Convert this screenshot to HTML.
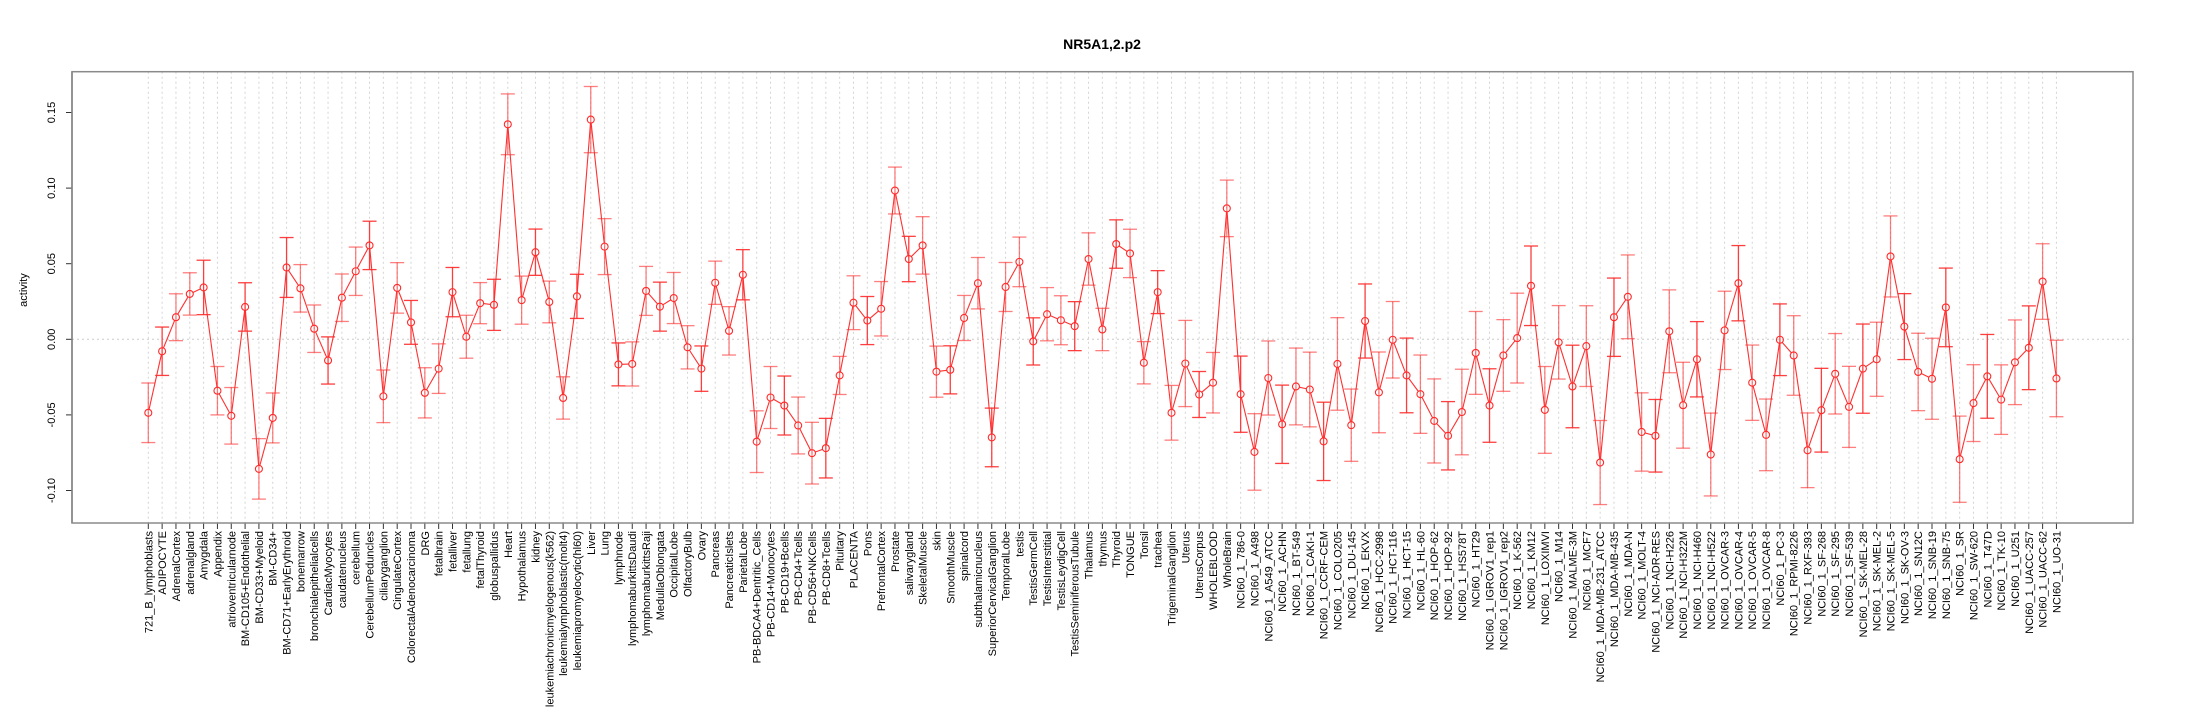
<!DOCTYPE html>
<html><head><meta charset="utf-8"><style>
html,body{margin:0;padding:0;background:#fff;}
svg{display:block;font-family:"Liberation Sans",Arial,sans-serif;}
</style></head><body>
<svg id="chart" width="2205" height="720" viewBox="0 0 2205 720" xmlns="http://www.w3.org/2000/svg">
<text x="1102" y="49" text-anchor="middle" font-size="14" font-weight="bold">NR5A1,2.p2</text>
<text transform="rotate(-90 27 290)" x="27" y="290" text-anchor="middle" font-size="11">activity</text>
<g id="grid"></g>
<g id="yaxis"></g>
<g id="xaxis"></g>
<g id="series"></g>
<rect x="72" y="71.7" width="2061" height="451.3" fill="none" stroke="#8a8a8a" stroke-width="1.5"/>
</svg>
<script>
const categories = ["721_B_lymphoblasts","ADIPOCYTE","AdrenalCortex","adrenalgland","Amygdala","Appendix","atrioventricularnode","BM-CD105+Endothelial","BM-CD33+Myeloid","BM-CD34+","BM-CD71+EarlyErythroid","bonemarrow","bronchialepithelialcells","CardiacMyocytes","caudatenucleus","cerebellum","CerebellumPeduncles","ciliaryganglion","CingulateCortex","ColorectalAdenocarcinoma","DRG","fetalbrain","fetalliver","fetallung","fetalThyroid","globuspallidus","Heart","Hypothalamus","kidney","leukemiachronicmyelogenous(k562)","leukemialymphoblastic(molt4)","leukemiapromyelocytic(hl60)","Liver","Lung","lymphnode","lymphomaburkittsDaudi","lymphomaburkittsRaji","MedullaOblongata","OccipitalLobe","OlfactoryBulb","Ovary","Pancreas","PancreaticIslets","ParietalLobe","PB-BDCA4+Dentritic_Cells","PB-CD14+Monocytes","PB-CD19+Bcells","PB-CD4+Tcells","PB-CD56+NKCells","PB-CD8+Tcells","Pituitary","PLACENTA","Pons","PrefrontalCortex","Prostate","salivarygland","SkeletalMuscle","skin","SmoothMuscle","spinalcord","subthalamicnucleus","SuperiorCervicalGanglion","TemporalLobe","testis","TestisGermCell","TestisInterstitial","TestisLeydigCell","TestisSeminiferousTubule","Thalamus","thymus","Thyroid","TONGUE","Tonsil","trachea","TrigeminalGanglion","Uterus","UterusCorpus","WHOLEBLOOD","WholeBrain","NCI60_1_786-0","NCI60_1_A498","NCI60_1_A549_ATCC","NCI60_1_ACHN","NCI60_1_BT-549","NCI60_1_CAKI-1","NCI60_1_CCRF-CEM","NCI60_1_COLO205","NCI60_1_DU-145","NCI60_1_EKVX","NCI60_1_HCC-2998","NCI60_1_HCT-116","NCI60_1_HCT-15","NCI60_1_HL-60","NCI60_1_HOP-62","NCI60_1_HOP-92","NCI60_1_HS578T","NCI60_1_HT29","NCI60_1_IGROV1_rep1","NCI60_1_IGROV1_rep2","NCI60_1_K-562","NCI60_1_KM12","NCI60_1_LOXIMVI","NCI60_1_M14","NCI60_1_MALME-3M","NCI60_1_MCF7","NCI60_1_MDA-MB-231_ATCC","NCI60_1_MDA-MB-435","NCI60_1_MDA-N","NCI60_1_MOLT-4","NCI60_1_NCI-ADR-RES","NCI60_1_NCI-H226","NCI60_1_NCI-H322M","NCI60_1_NCI-H460","NCI60_1_NCI-H522","NCI60_1_OVCAR-3","NCI60_1_OVCAR-4","NCI60_1_OVCAR-5","NCI60_1_OVCAR-8","NCI60_1_PC-3","NCI60_1_RPMI-8226","NCI60_1_RXF-393","NCI60_1_SF-268","NCI60_1_SF-295","NCI60_1_SF-539","NCI60_1_SK-MEL-28","NCI60_1_SK-MEL-2","NCI60_1_SK-MEL-5","NCI60_1_SK-OV-3","NCI60_1_SN12C","NCI60_1_SNB-19","NCI60_1_SNB-75","NCI60_1_SR","NCI60_1_SW-620","NCI60_1_T47D","NCI60_1_TK-10","NCI60_1_U251","NCI60_1_UACC-257","NCI60_1_UACC-62","NCI60_1_UO-31"];
const values = [-0.0486,-0.0079,0.0146,0.030,0.0343,-0.034,-0.0506,0.0214,-0.0857,-0.052,0.0475,0.0337,0.007,-0.014,0.0275,0.045,0.0621,-0.0377,0.034,0.0112,-0.0354,-0.0194,0.0312,0.0017,0.0239,0.0228,0.1422,0.0259,0.0576,0.0247,-0.0388,0.0284,0.1453,0.0613,-0.0166,-0.0163,0.032,0.0216,0.0273,-0.0053,-0.0194,0.0374,0.0056,0.0427,-0.0677,-0.0385,-0.0438,-0.057,-0.0753,-0.072,-0.0239,0.0242,0.0124,0.0202,0.0984,0.0531,0.0621,-0.0214,-0.0202,0.0141,0.0371,-0.0649,0.0346,0.0512,-0.0014,0.0166,0.0126,0.0087,0.0531,0.0065,0.063,0.0568,-0.0155,0.0312,-0.0486,-0.016,-0.0365,-0.0287,0.0866,-0.0363,-0.0745,-0.0256,-0.0562,-0.0312,-0.0332,-0.0675,-0.0163,-0.0568,0.0121,-0.0351,-0.0003,-0.0239,-0.0363,-0.054,-0.0638,-0.0481,-0.009,-0.0438,-0.0107,0.0008,0.0354,-0.0467,-0.002,-0.0312,-0.0045,-0.0815,0.0146,0.0281,-0.0613,-0.0638,0.0053,-0.0436,-0.0132,-0.0762,0.0059,0.0371,-0.0287,-0.0632,-0.0003,-0.0107,-0.0734,-0.0469,-0.0228,-0.0447,-0.0194,-0.0132,0.0548,0.0084,-0.0216,-0.0261,0.0211,-0.0793,-0.0422,-0.0245,-0.0399,-0.0152,-0.0056,0.0382,-0.0259];
const errors = [0.0197,0.016,0.0155,0.014,0.018,0.016,0.0187,0.016,0.02,0.0165,0.0198,0.0157,0.0157,0.0156,0.0157,0.016,0.016,0.0174,0.0167,0.0145,0.0166,0.0164,0.0163,0.0142,0.0136,0.0169,0.0201,0.0159,0.0153,0.0138,0.014,0.0146,0.0219,0.0185,0.0142,0.0146,0.0162,0.0162,0.0169,0.0143,0.015,0.0143,0.016,0.0166,0.0204,0.0205,0.0195,0.0188,0.0204,0.0197,0.0126,0.0178,0.0159,0.018,0.0155,0.015,0.019,0.0169,0.0159,0.0149,0.017,0.0194,0.0162,0.0164,0.0156,0.0176,0.0162,0.0162,0.0173,0.014,0.016,0.016,0.014,0.0142,0.0181,0.0285,0.0152,0.02,0.0187,0.0252,0.0253,0.0245,0.0259,0.0254,0.0247,0.0259,0.0306,0.0239,0.0245,0.0267,0.0253,0.0247,0.0259,0.0278,0.0226,0.0283,0.0274,0.0243,0.0237,0.0297,0.0263,0.0287,0.0243,0.0273,0.0267,0.0278,0.0259,0.0277,0.0259,0.024,0.0274,0.0284,0.0249,0.0274,0.0259,0.0249,0.0249,0.0237,0.0237,0.0263,0.0247,0.0277,0.0266,0.0268,0.0295,0.0245,0.0268,0.0218,0.0256,0.0268,0.026,0.0285,0.0254,0.0277,0.023,0.028,0.0277,0.025,0.0253];
const yTicks = [-0.10,-0.05,0.00,0.05,0.10,0.15];
const yTickLabels = ["-0.10","-0.05","0.00","0.05","0.10","0.15"];

const NS = "http://www.w3.org/2000/svg";
const X0 = 148.3, XSTEP = (2056.3-148.3)/137.99;
function xScale(i){ return X0 + i*XSTEP; }
function yScale(v){ return 339.3 - v*1512; }
function mk(tag, attrs, parent){ const e=document.createElementNS(NS,tag); for(const k in attrs) e.setAttribute(k,attrs[k]); parent.appendChild(e); return e; }

const grid=document.getElementById('grid'), yaxis=document.getElementById('yaxis'), xaxis=document.getElementById('xaxis'), series=document.getElementById('series');
const TOP=71.7, BOT=523, LEFT=72, RIGHT=2133;

// zero line
const zl = mk('line',{x1:LEFT,x2:RIGHT,y1:yScale(0),y2:yScale(0),stroke:'#cccccc','stroke-dasharray':'2,3','stroke-width':1},grid);



// y axis
const ya = mk('line',{x1:LEFT,x2:LEFT,y1:TOP,y2:BOT,stroke:'#666',"stroke-width":1.5},yaxis);


yTicks.forEach((t,k)=>{
  const y=yScale(t);
  const tk=mk('line',{x1:LEFT-6,x2:LEFT,y1:y,y2:y,stroke:'#333'},yaxis);
  
  
  const tx=mk('text',{x:55,y:y,'font-size':11,'text-anchor':'middle',transform:`rotate(-90 55 ${y})`},yaxis);
  tx.textContent=yTickLabels[k];
  
  
});

// x axis
const xa = mk('line',{x1:xScale(0),x2:xScale(categories.length-1),y1:BOT,y2:BOT,stroke:'#333'},xaxis);


categories.forEach((c,i)=>{
  const x=xScale(i);
  const g=mk('line',{x1:x,x2:x,y1:TOP,y2:BOT,stroke:'#d4d4d4','stroke-dasharray':'2,3','stroke-width':1},grid);
  
  
  const tk=mk('line',{x1:x,x2:x,y1:BOT,y2:BOT+6,stroke:'#333'},xaxis);
  
  
  const tx=mk('text',{x:x+4,y:531,'font-size':11,'text-anchor':'end',transform:`rotate(-90 ${x+4} 531)`},xaxis);
  tx.textContent=c;
  
  
});

// series
const R=3.5;
for(let i=0;i<values.length-1;i++){
  const x1=xScale(i),y1=yScale(values[i]),x2=xScale(i+1),y2=yScale(values[i+1]);
  const dx=x2-x1,dy=y2-y1,L=Math.hypot(dx,dy);
  if(L<=2*R+1) continue;
  const ux=dx/L,uy=dy/L;
  const s=mk('line',{x1:x1+ux*R,y1:y1+uy*R,x2:x2-ux*R,y2:y2-uy*R,stroke:'#ff3030','stroke-width':1.1},series);
  
  
}
values.forEach((v,i)=>{
  const x=xScale(i), y=yScale(v), yt=yScale(v+errors[i]), yb=yScale(v-errors[i]);
  const op = (i%3===1)?0.9:0.6;
  const g=mk('g',{stroke:'#ff2a2a','stroke-opacity':op,'stroke-width':1.3,fill:'none'},series);
  
  
  mk('line',{x1:x,x2:x,y1:yt,y2:yb},g);
  mk('line',{x1:x-7,x2:x+7,y1:yt,y2:yt},g);
  mk('line',{x1:x-7,x2:x+7,y1:yb,y2:yb},g);
  const p=mk('circle',{cx:x,cy:y,r:R,fill:'none',stroke:'#ff2a2a','stroke-width':1.1},series);
  
  
});
</script>
</body></html>
